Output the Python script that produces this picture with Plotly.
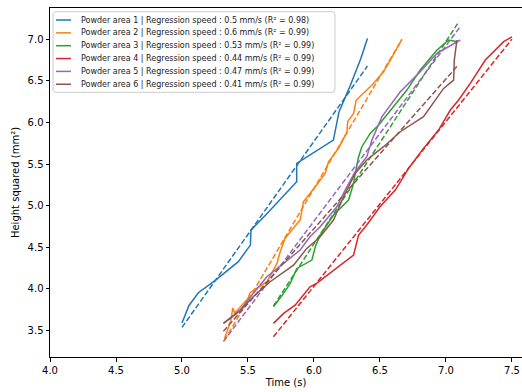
import plotly.graph_objects as go

colors = ["#1f77b4", "#ff7f0e", "#2ca02c", "#d62728", "#9467bd", "#8c564b"]
speeds = ["0.5", "0.6", "0.53", "0.44", "0.47", "0.41"]
r2 = ["0.98", "0.99", "0.99", "0.99", "0.99", "0.99"]

t1 = [5.0, 5.053, 5.124, 5.255, 5.427, 5.518, 5.523, 5.634, 5.869, 5.869, 6.147, 6.19, 6.266, 6.355, 6.405]
h1 = [3.59, 3.80, 3.953, 4.105, 4.326, 4.526, 4.707, 4.887, 5.288, 5.508, 5.789, 6.13, 6.41, 6.77, 7.01]

t2 = [5.322, 5.37, 5.385, 5.40, 5.50, 5.516, 5.643, 5.72, 5.74, 5.78, 5.895, 5.92, 6.01, 6.085, 6.11, 6.186, 6.25, 6.255, 6.30, 6.32, 6.44, 6.527, 6.60, 6.666]
h2 = [3.40, 3.62, 3.77, 3.71, 3.885, 3.953, 4.085, 4.305, 4.426, 4.606, 4.827, 5.047, 5.228, 5.388, 5.528, 5.689, 5.889, 6.01, 6.11, 6.27, 6.45, 6.61, 6.81, 7.0]

t3 = [5.693, 5.77, 5.82, 5.845, 5.87, 5.984, 6.01, 6.047, 6.148, 6.262, 6.30, 6.31, 6.338, 6.363, 6.426, 6.49, 6.603, 6.704, 6.805, 6.932, 7.02, 7.088]
h3 = [3.785, 3.945, 4.065, 4.165, 4.245, 4.345, 4.506, 4.646, 4.887, 5.067, 5.268, 5.368, 5.589, 5.709, 5.869, 5.97, 6.19, 6.39, 6.631, 6.872, 6.992, 6.97]

t4 = [5.693, 5.77, 5.857, 5.97, 6.02, 6.30, 6.338, 6.40, 6.50, 6.616, 6.717, 6.83, 6.944, 7.033, 7.096, 7.184, 7.298, 7.437, 7.50]
h4 = [3.584, 3.704, 3.804, 4.025, 4.065, 4.406, 4.646, 4.767, 4.987, 5.188, 5.448, 5.689, 5.909, 6.15, 6.27, 6.471, 6.751, 6.972, 7.03]

t5 = [5.314, 5.44, 5.54, 5.643, 5.769, 5.895, 5.97, 6.047, 6.173, 6.236, 6.312, 6.40, 6.439, 6.515, 6.654, 6.805, 6.932, 7.108]
h5 = [3.584, 3.744, 3.945, 4.145, 4.305, 4.466, 4.626, 4.747, 4.987, 5.188, 5.408, 5.589, 5.789, 6.07, 6.37, 6.611, 6.832, 6.992]

t6 = [5.314, 5.415, 5.54, 5.668, 5.845, 5.946, 6.047, 6.148, 6.224, 6.312, 6.40, 6.527, 6.654, 6.83, 6.982, 7.058, 7.063, 7.083]
h6 = [3.584, 3.704, 3.905, 4.085, 4.285, 4.486, 4.626, 4.827, 5.107, 5.388, 5.549, 5.709, 5.889, 6.07, 6.41, 6.51, 6.75, 6.992]

fit_slope = [2.237, 2.691, 2.434, 1.981, 2.11, 1.8]
fit_intercept = [-7.649, -10.939, -10.063, -7.855, -7.846, -6.076]

x_ticks = [4.0, 4.5, 5.0, 5.5, 6.0, 6.5, 7.0, 7.5]
y_ticks = [3.5, 4.0, 4.5, 5.0, 5.5, 6.0, 6.5, 7.0]

times = [t1, t2, t3, t4, t5, t6]
heights = [h1, h2, h3, h4, h5, h6]

W, H = 522, 392
ML, MR, MT, MB = 50, 0, 8, 35
PW, PH = W - ML - MR, H - MT - MB


def px_to_paper(px, py):
    return (px - ML) / PW, 1 - (py - MT) / PH


fig = go.Figure()
for i in range(6):
    name = f"Powder area {i+1} | Regression speed : {speeds[i]} mm/s (R² = {r2[i]})"
    fig.add_trace(go.Scatter(x=times[i], y=heights[i], mode="lines", name=name, showlegend=False,
                             line=dict(color=colors[i], width=1.5)))
    xs = [min(times[i]), max(times[i])]
    ys = [fit_slope[i] * x + fit_intercept[i] for x in xs]
    fig.add_trace(go.Scatter(x=xs, y=ys, mode="lines", showlegend=False,
                             line=dict(color=colors[i], width=1.5, dash="5.5px,2.4px")))

# legend drawn manually (compact matplotlib-like layout)
bx0, by0 = px_to_paper(53, 11.7)
bx1, by1 = px_to_paper(335, 92.3)
rx, ry = 3 / PW, 3 / PH
path = (f"M {bx0+rx},{by0} L {bx1-rx},{by0} Q {bx1},{by0} {bx1},{by0-ry} "
        f"L {bx1},{by1+ry} Q {bx1},{by1} {bx1-rx},{by1} L {bx0+rx},{by1} "
        f"Q {bx0},{by1} {bx0},{by1+ry} L {bx0},{by0-ry} Q {bx0},{by0} {bx0+rx},{by0} Z")
shapes = [dict(type="path", xref="paper", yref="paper", path=path,
               fillcolor="rgba(255,255,255,0.8)", line=dict(color="#cccccc", width=1), layer="above")]
annotations = []
for i in range(6):
    rowy = 20.0 + 12.85 * i
    lx0, ly = px_to_paper(56, rowy)
    lx1, _ = px_to_paper(71, rowy)
    shapes.append(dict(type="line", xref="paper", yref="paper", x0=lx0, x1=lx1, y0=ly, y1=ly,
                       line=dict(color=colors[i], width=1.5), layer="above"))
    tx, _ = px_to_paper(79, rowy)
    annotations.append(dict(xref="paper", yref="paper", x=tx, y=ly, xanchor="left", yanchor="middle",
                            showarrow=False,
                            text=f"Powder area {i+1} | Regression speed : {speeds[i]} mm/s (R² = {r2[i]})",
                            font=dict(family="DejaVu Sans", size=8, color="#1a1a1a")))

axis_common = dict(showgrid=False, zeroline=False, showline=True, linecolor="black", linewidth=1,
                   ticks="outside", ticklen=3.5, tickwidth=1, tickcolor="black",
                   tickfont=dict(family="DejaVu Sans", size=10, color="black"), automargin=False)

fig.update_layout(
    width=W, height=H,
    margin=dict(l=ML, r=MR, t=MT, b=MB),
    paper_bgcolor="white", plot_bgcolor="white",
    font=dict(family="DejaVu Sans", color="black"),
    xaxis=dict(range=[4.0, 7.576], tickvals=x_ticks, ticktext=[f"{v:.1f}" for v in x_ticks],
               mirror=True, title=dict(text="Time (s)", font=dict(size=10), standoff=4), **axis_common),
    yaxis=dict(range=[3.18, 7.377], tickvals=y_ticks, ticktext=[f"{v:.1f}" for v in y_ticks],
               mirror=False, title=dict(text="Height squared (mm²)", font=dict(size=10), standoff=6), **axis_common),
    shapes=shapes,
    annotations=annotations,
    showlegend=False,
)

fig.write_html("out.html", config={"displayModeBar": False},
               post_script="document.body.style.margin='0px';")
